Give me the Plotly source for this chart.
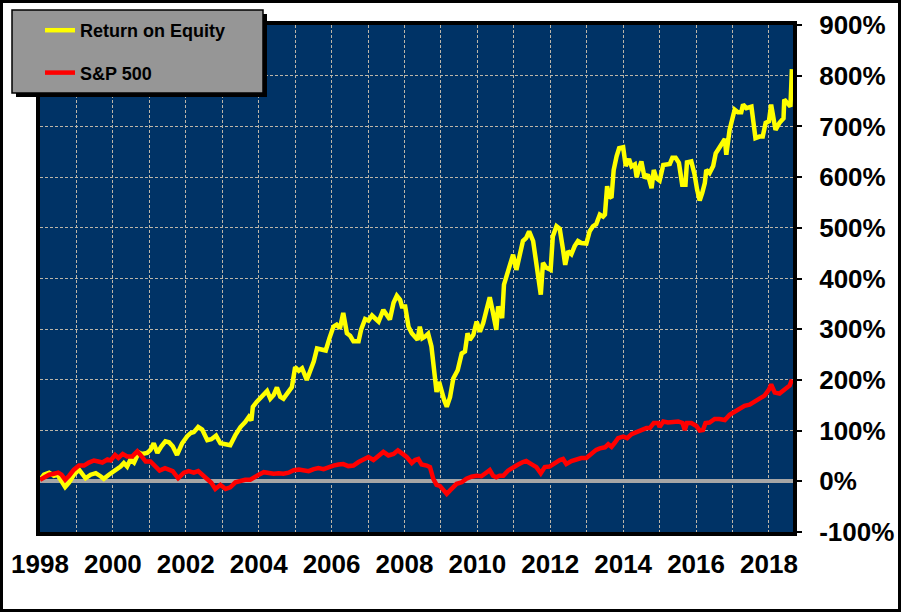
import plotly.graph_objects as go

# values (decimal year, cumulative % return)
roe_years = [
    1998.00, 1998.11, 1998.25, 1998.38, 1998.48, 1998.57, 1998.69, 1998.80, 1998.93,
    1999.07, 1999.16, 1999.25, 1999.39, 1999.53, 1999.66, 1999.75, 1999.89,
    2000.07, 2000.21, 2000.30, 2000.39, 2000.48, 2000.58, 2000.71, 2000.80, 2000.94,
    2001.03, 2001.12, 2001.22, 2001.33, 2001.44, 2001.54, 2001.64, 2001.76, 2001.90,
    2002.04, 2002.13, 2002.22, 2002.34, 2002.45, 2002.59, 2002.70, 2002.83, 2002.95,
    2003.09, 2003.22, 2003.36, 2003.50, 2003.63, 2003.73, 2003.80, 2003.84, 2003.95,
    2004.09, 2004.23, 2004.32, 2004.41, 2004.50, 2004.59, 2004.68, 2004.82, 2004.91,
    2005.00, 2005.10, 2005.19, 2005.32, 2005.42, 2005.51, 2005.60, 2005.74, 2005.84, 2005.94,
    2006.05, 2006.14, 2006.23, 2006.32, 2006.42, 2006.51, 2006.60, 2006.74, 2006.81, 2006.92,
    2007.01, 2007.11, 2007.20, 2007.29, 2007.42, 2007.51, 2007.60, 2007.70, 2007.79, 2007.88, 2007.93,
    2008.02, 2008.11, 2008.20, 2008.29, 2008.36, 2008.42, 2008.49, 2008.56, 2008.65, 2008.74,
    2008.82, 2008.88, 2008.95,
    2009.02, 2009.09, 2009.16, 2009.25, 2009.34, 2009.46, 2009.57, 2009.66, 2009.73, 2009.79,
    2009.89, 2009.98,
    2010.07, 2010.16, 2010.25, 2010.34, 2010.43, 2010.52, 2010.57, 2010.64, 2010.68, 2010.73,
    2010.84, 2010.98,
    2011.07, 2011.16, 2011.25, 2011.34, 2011.42, 2011.53, 2011.62, 2011.68, 2011.74, 2011.80, 2011.89,
    2012.01, 2012.07, 2012.17, 2012.26, 2012.35, 2012.41, 2012.49, 2012.58, 2012.67, 2012.76,
    2012.85, 2012.99,
    2013.08, 2013.17, 2013.26, 2013.36, 2013.45, 2013.50, 2013.56, 2013.62, 2013.68, 2013.74,
    2013.82, 2013.89,
    2014.00, 2014.07, 2014.16, 2014.23, 2014.32, 2014.37, 2014.44, 2014.50, 2014.59, 2014.68,
    2014.78, 2014.84, 2014.91,
    2015.00, 2015.10, 2015.19, 2015.28, 2015.35, 2015.44, 2015.53, 2015.62, 2015.71, 2015.75,
    2015.87, 2015.96,
    2016.03, 2016.10, 2016.17, 2016.24, 2016.28, 2016.37, 2016.47, 2016.54, 2016.63, 2016.72,
    2016.79, 2016.83, 2016.92,
    2017.00, 2017.06, 2017.15, 2017.24, 2017.29, 2017.38, 2017.52, 2017.56, 2017.63, 2017.74,
    2017.83, 2017.91,
    2018.00, 2018.06, 2018.13, 2018.18, 2018.29, 2018.40, 2018.42, 2018.52, 2018.59, 2018.63,
]
roe_values = [
    3, 13, 17, 11, 13, 3, -11, -2, 13,
    23, 13, 6, 13, 16, 10, 5, 13,
    21, 29, 36, 29, 43, 37, 57, 54, 56,
    62, 75, 56, 69, 79, 77, 69, 52, 75,
    89, 95, 97, 107, 102, 81, 83, 90, 75,
    74, 71, 91, 107, 117, 127, 120, 147, 157,
    167, 178, 163, 170, 185, 167, 163, 176, 186,
    225, 218, 223, 200, 219, 236, 262, 259, 258, 282,
    305, 309, 302, 332, 292, 287, 276, 276, 299, 320,
    317, 327, 322, 315, 338, 328, 319, 352, 366, 358, 345,
    345, 305, 292, 285, 279, 305, 282, 285, 291, 266,
    206, 176, 196,
    173, 160, 147, 166, 203, 219, 252, 256, 292, 279,
    289, 315,
    295, 312, 338, 363, 332, 299, 345, 325, 322, 388,
    417, 447,
    417, 444, 474, 480, 493, 474, 431, 404, 368, 431, 421,
    417, 483, 503, 498, 457, 427, 454, 448, 464, 474,
    470, 469,
    493, 503, 507, 526, 522, 526, 582, 562, 559, 614,
    641, 657,
    659, 622, 636, 621, 625, 600, 618, 631, 598, 605,
    578, 614, 598,
    593, 624, 624, 626, 638, 638, 628, 585, 585, 629,
    631, 605,
    575, 554, 569, 588, 614, 608, 622, 647, 657, 667,
    675, 644, 693,
    716, 733, 728, 728, 743, 736, 739, 720, 677, 680,
    680, 707,
    710, 743, 716, 693, 707, 716, 753, 746, 739, 813,
]

sp_years = [
    1998.00, 1998.11, 1998.25, 1998.38, 1998.50, 1998.59, 1998.69, 1998.80, 1998.93,
    1999.07, 1999.21, 1999.34, 1999.48, 1999.60, 1999.71, 1999.85, 1999.94,
    2000.06, 2000.15, 2000.27, 2000.39, 2000.53, 2000.67, 2000.79, 2000.90,
    2001.03, 2001.17, 2001.28, 2001.43, 2001.54, 2001.64, 2001.79, 2001.95,
    2002.08, 2002.22, 2002.34, 2002.45, 2002.59, 2002.70, 2002.81, 2002.95,
    2003.09, 2003.22, 2003.36, 2003.50, 2003.63, 2003.77, 2003.86,
    2004.00, 2004.14, 2004.27, 2004.41, 2004.55, 2004.68, 2004.82, 2004.96,
    2005.10, 2005.23, 2005.37, 2005.51, 2005.64, 2005.78, 2005.92,
    2006.05, 2006.19, 2006.32, 2006.46, 2006.60, 2006.74, 2006.88,
    2007.01, 2007.15, 2007.29, 2007.42, 2007.56, 2007.70, 2007.82, 2007.93,
    2008.06, 2008.20, 2008.29, 2008.38, 2008.47, 2008.61, 2008.70, 2008.79, 2008.88, 2008.97,
    2009.06, 2009.16, 2009.25, 2009.34, 2009.43, 2009.57, 2009.70, 2009.84, 2009.98,
    2010.11, 2010.25, 2010.34, 2010.43, 2010.52, 2010.61, 2010.71, 2010.84, 2010.98,
    2011.12, 2011.25, 2011.34, 2011.48, 2011.62, 2011.74, 2011.85, 2011.98,
    2012.12, 2012.26, 2012.35, 2012.44, 2012.58, 2012.71, 2012.85, 2012.99,
    2013.12, 2013.26, 2013.36, 2013.50, 2013.59, 2013.68, 2013.77, 2013.86,
    2014.00, 2014.11, 2014.23, 2014.37, 2014.50, 2014.64, 2014.73, 2014.84, 2014.96,
    2015.00, 2015.10, 2015.23, 2015.37, 2015.51, 2015.63, 2015.69, 2015.75, 2015.87,
    2016.01, 2016.10, 2016.19, 2016.26, 2016.37, 2016.51, 2016.64, 2016.79, 2016.92,
    2017.06, 2017.20, 2017.33, 2017.47, 2017.61, 2017.74, 2017.88,
    2018.00, 2018.06, 2018.16, 2018.29, 2018.42, 2018.57, 2018.63,
]
sp_values = [
    3, 8, 13, 15, 17, 13, 3, 11, 23,
    31, 31, 37, 41, 39, 37, 43, 41,
    52, 46, 54, 49, 49, 59, 49, 39,
    39, 29, 21, 26, 24, 20, 6, 17,
    20, 17, 20, 13, 3, -3, -15, -7,
    -15, -12, -2, 1, 3, 3, 8,
    13, 18, 16, 15, 16, 15, 17, 22,
    23, 21, 20, 24, 26, 24, 28,
    31, 33, 34, 30, 31, 38, 44,
    48, 42, 49, 58, 51, 54, 61, 54,
    48, 36, 42, 44, 33, 31, 28, 5, -7, -9,
    -18, -25, -18, -11, -5, -2, 5, 9, 11,
    10, 18, 22, 11, 8, 11, 11, 21, 28,
    33, 38, 40, 34, 28, 16, 28, 29,
    36, 42, 44, 34, 40, 44, 46, 46,
    55, 62, 65, 67, 73, 68, 76, 85,
    88, 85, 93, 98, 101, 105, 105, 115, 115,
    107, 118, 116, 116, 118, 115, 101, 115, 115,
    109, 100, 101, 115, 116, 123, 123, 121, 131,
    138, 145, 149, 151, 156, 163, 169,
    181, 191, 175, 173, 181, 189, 201,
]

# y axis tick labels (plain hyphen as in the reference)
y_tickvals = [-100, 0, 100, 200, 300, 400, 500, 600, 700, 800, 900]
y_ticktext = ["-100%", "0%", "100%", "200%", "300%", "400%", "500%", "600%", "700%", "800%", "900%"]

W, H = 901, 612
L, R, T, B = 40, 108, 25, 80
PW, PH = W - L - R, H - T - B


def px_x(x):
    return (x - L) / PW


def px_y(y):
    return (H - B - y) / PH


tick_font = dict(family="Liberation Sans, Arial, sans-serif", size=26, color="black", weight="bold")
grid = dict(gridcolor="#bdb6a8", gridwidth=1, griddash="3px,2px")

fig = go.Figure()
fig.add_trace(go.Scatter(
    x=roe_years, y=roe_values, mode="lines", name="Return on Equity",
    line=dict(color="#ffff00", width=4.5), legendgroup="a",
))
fig.add_trace(go.Scatter(
    x=sp_years, y=sp_values, mode="lines", name="S&P 500",
    line=dict(color="#ff0000", width=4.5), legendgroup="b",
))

shapes = [
    # outer frame
    dict(type="rect", xref="paper", yref="paper", x0=px_x(1.5), x1=px_x(899.5),
         y0=px_y(610.5), y1=px_y(1.5), line=dict(color="black", width=3), layer="above"),
    # plot area border, drawn just outside the navy area
    dict(type="rect", xref="paper", yref="paper", x0=px_x(L - 2), x1=px_x(L + PW + 2),
         y0=px_y(T + PH + 2), y1=px_y(T - 2), line=dict(color="black", width=4), layer="above"),
    # legend shadow and box
    dict(type="rect", xref="paper", yref="paper", x0=px_x(16), x1=px_x(267),
         y0=px_y(97), y1=px_y(14), fillcolor="black", line=dict(width=0), layer="above"),
    dict(type="rect", xref="paper", yref="paper", x0=px_x(12), x1=px_x(263),
         y0=px_y(93), y1=px_y(10), fillcolor="#969696", line=dict(color="black", width=1.5),
         layer="above"),
]

fig.update_layout(
    width=W, height=H,
    margin=dict(l=L, r=R, t=T, b=B, autoexpand=False),
    paper_bgcolor="white",
    plot_bgcolor="#003366",
    shapes=shapes,
    showlegend=True,
    legend=dict(
        xref="container", yref="container",
        x=40 / W, y=1 - 12 / H, xanchor="left", yanchor="top",
        bgcolor="rgba(0,0,0,0)", borderwidth=0,
        font=dict(family="Liberation Sans, Arial, sans-serif", size=18, color="black", weight="bold"),
        traceorder="grouped", tracegroupgap=16,
    ),
    xaxis=dict(
        range=[1998, 2018.66], tick0=1998, dtick=2, tickformat="d", tickangle=0,
        showgrid=True, **grid,
        minor=dict(dtick=1, tick0=1998, showgrid=True, **grid),
        ticks="", ticklabelstandoff=14, tickfont=tick_font, automargin=False,
        zeroline=False, showline=False, fixedrange=True,
    ),
    yaxis=dict(
        range=[-100, 900], tickmode="array", tickvals=y_tickvals, ticktext=y_ticktext,
        side="right", showgrid=True, **grid,
        ticks="outside", ticklen=8, tickwidth=2, tickcolor="black",
        ticklabelstandoff=12, tickfont=tick_font, automargin=False,
        zeroline=True, zerolinecolor="#a6a6a6", zerolinewidth=4,
        showline=False, fixedrange=True,
    ),
)

# drop the default page margin so the 901x612 figure fills the window exactly
fig.write_html(
    "out.html",
    config={"displayModeBar": False},
    post_script="document.body.style.margin = '0';",
)
